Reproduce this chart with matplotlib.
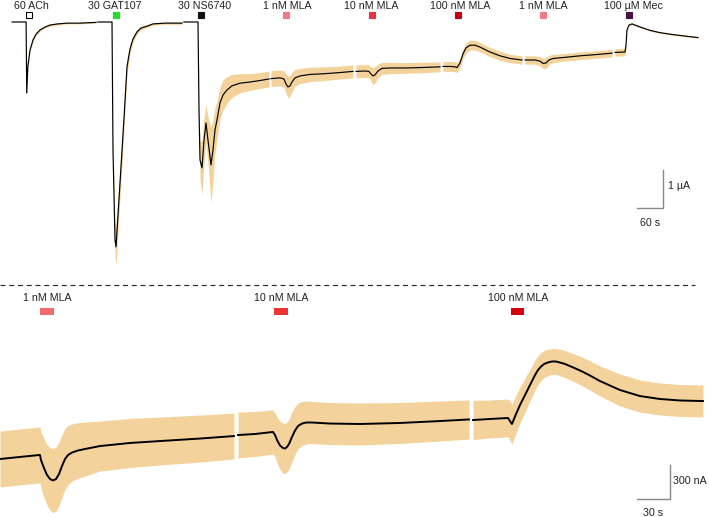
import matplotlib
matplotlib.use("Agg")
import matplotlib.pyplot as plt
from matplotlib.lines import Line2D
from matplotlib.patches import Rectangle

plt.rcParams['font.family'] = ['Liberation Sans', 'DejaVu Sans']

# ---------------- top panel data (time in s, current in µA) ----------------
ach_t = [5, 35, 37, 38.5, 41, 46, 53, 60, 69, 81, 92, 110, 131, 161, 198]
ach_i = [0, 0, 0, -1.87, -1.18, -0.74, -0.47, -0.32, -0.21, -0.13, -0.08, -0.05, -0.03, -0.03, -0.01]
ach_sem = [0, 0, 0.01, 0.05, 0.05, 0.04, 0.04, 0.03, 0.03, 0.03, 0.03, 0.03, 0.02, 0.02, 0.02]

gat_t = [202, 232, 234.6, 236.9, 241.5, 243.8, 253, 262.2, 269.1, 276, 282.9, 292.1, 301.3, 315.1, 328.9, 356.5, 395.6]
gat_i = [0, 0, 0, -3.37, -5.74, -5.92, -4.24, -2.53, -1.18, -0.71, -0.45, -0.26, -0.16, -0.11, -0.05, -0.03, -0.03]
gat_sem = [0, 0, 0.02, 0.2, 0.45, 0.5, 0.4, 0.3, 0.2, 0.12, 0.08, 0.06, 0.05, 0.04, 0.03, 0.03, 0.03]

ns_t = [400, 430, 432.4, 434.7, 437, 441.6, 446.2, 450.8, 455.4, 462.3, 466.9, 471.5, 476.1, 483, 489.9, 499.1, 510.6, 529, 552, 575, 595.7]
ns_i = [0, 0, 0, -2.32, -3.63, -3.84, -3.11, -2.66, -3.11, -3.76, -3.37, -2.84, -2.58, -2.13, -1.92, -1.79, -1.68, -1.61, -1.58, -1.54, -1.50]
ns_sem = [0, 0, 0.02, 0.2, 0.5, 0.7, 0.6, 0.5, 0.6, 1.0, 0.8, 0.6, 0.5, 0.42, 0.4, 0.35, 0.3, 0.25, 0.22, 0.21, 0.21]

mla1_t = [600.3, 621, 630.2, 634.8, 639.4, 644, 648.6, 655.5, 667, 690, 724.5, 759, 788.9]
mla1_i = [-1.49, -1.47, -1.50, -1.63, -1.71, -1.68, -1.58, -1.47, -1.42, -1.38, -1.36, -1.33, -1.30]
mla1_sem = [0.21, 0.21, 0.22, 0.26, 0.28, 0.28, 0.25, 0.22, 0.2, 0.19, 0.18, 0.17, 0.17]

mla10_t = [795.8, 816.5, 825.7, 830.3, 834.9, 839.5, 846.4, 855.6, 874, 908.5, 943, 989]
mla10_i = [-1.30, -1.29, -1.30, -1.37, -1.42, -1.39, -1.29, -1.22, -1.21, -1.21, -1.20, -1.18]
mla10_sem = [0.17, 0.17, 0.17, 0.19, 0.22, 0.22, 0.18, 0.16, 0.15, 0.14, 0.14, 0.13]

mla100_t = [995.9, 1012, 1023.5, 1028.1, 1035, 1041.9, 1048.8, 1058, 1069.5, 1081, 1104, 1127, 1150, 1177.6]
mla100_i = [-1.17, -1.17, -1.18, -1.20, -1.08, -0.84, -0.68, -0.61, -0.61, -0.66, -0.79, -0.89, -0.96, -1.00]
mla100_sem = [0.13, 0.13, 0.13, 0.13, 0.13, 0.13, 0.13, 0.13, 0.13, 0.12, 0.12, 0.12, 0.11, 0.11]

mla1b_t = [1184.5, 1207.5, 1219, 1225.9, 1232.8, 1239.7, 1248.9, 1276.5, 1311, 1345.5, 1384.6]
mla1b_i = [-1.00, -1.00, -1.03, -1.09, -1.08, -1.00, -0.96, -0.93, -0.89, -0.86, -0.82]
mla1b_sem = [0.11, 0.11, 0.12, 0.14, 0.14, 0.12, 0.11, 0.1, 0.1, 0.1, 0.1]

mec_t = [1391.5, 1414.5, 1416.8, 1419.1, 1423.7, 1430.6, 1449, 1472, 1495, 1518, 1552.5, 1582.4]
mec_i = [-0.80, -0.79, -0.61, -0.21, -0.08, -0.05, -0.13, -0.22, -0.28, -0.32, -0.37, -0.41]
mec_sem = [0.1, 0.1, 0.06, 0.03, 0.02, 0.02, 0.02, 0.02, 0.02, 0.02, 0.02, 0.02]

top_labels = ["60 ACh", "30 GAT107", "30 NS6740", "1 nM MLA", "10 nM MLA",
              "100 nM MLA", "1 nM MLA", "100 µM Mec"]
top_label_t = [49.5, 241.5, 448.5, 637, 830, 1035, 1226, 1433]
top_app_t = [43.7, 243.8, 439.3, 634.8, 832.6, 1030.4, 1225.9, 1423.7]
top_app_colors = ["white", "#22dd22", "#111111", "#f27a88", "#e8323f", "#c4000f", "#f27a88", "#4a0f3f"]

# ---------------- bottom panel data (time in s, current in nA, relative) ----------------
b1_t = [0, 18.2, 35.5, 36.4, 37.3, 40, 42.8, 45.5, 48.2, 51, 53.7, 56.4, 59.2, 61.9, 65.5, 71, 77.4, 91, 118.3, 145.6, 182, 212.9]
b1_i = [0, 18, 35, 35, -9, -79, -141, -176, -189, -176, -132, -62, 0, 35, 57, 75, 88, 114, 141, 158, 180, 202]
b1_sem = [246, 246, 246, 246, 250, 258, 266, 275, 282, 282, 280, 275, 268, 260, 252, 244, 238, 220, 216, 211, 207, 202]

b2_t = [216.6, 232.1, 248.4, 250.3, 252.1, 254.8, 257.5, 259.4, 261.2, 263, 265.7, 268.5, 271.2, 274.8, 278.5, 283.9, 300.3, 327.6, 364, 400.4, 426.8]
b2_i = [211, 220, 238, 211, 167, 119, 97, 92, 106, 132, 194, 251, 290, 312, 321, 321, 312, 308, 317, 334, 348]
b2_sem = [202, 198, 194, 194, 202, 211, 220, 220, 220, 220, 220, 211, 202, 194, 189, 185, 185, 185, 180, 176, 172]

b3_t = [430.4, 445.9, 462.3, 464.1, 465.9, 469.6, 473.2, 477.8, 482.3, 486.9, 489.6, 492.4, 495.1, 498.7, 502.3, 505.9, 509.6, 514.2, 520.5, 527.8, 535.1, 546, 564.2, 582.4, 600.6, 618.8, 639.7]
b3_i = [343, 352, 361, 334, 308, 396, 475, 563, 651, 739, 783, 814, 836, 850, 858, 858, 849, 836, 810, 779, 744, 686, 607, 554, 528, 515, 510]
b3_sem = [172, 167, 167, 172, 176, 167, 158, 150, 141, 132, 127, 123, 119, 116, 114, 114, 116, 119, 121, 125, 129, 132, 141, 141, 141, 141, 141]

bot_labels = ["1 nM MLA", "10 nM MLA", "100 nM MLA"]
bot_label_t = [42.8, 255.7, 471.4]
bot_app_start = [36.4, 249.3, 465.0]
bot_app_dur = [12.7, 12.7, 12.0]
bot_app_colors = ["#f26b70", "#ee3337", "#d9000e"]

BAND = "#f3d39b"
TXT = "#222222"
BAR = "#888888"

fig = plt.figure(figsize=(7.09, 5.17), dpi=100)
H = 517.0
ax_top = fig.add_axes([0, 1 - 280 / H, 1, 280 / H])
ax_bot = fig.add_axes([0, 0, 1, (517 - 285) / H])
for ax in (ax_top, ax_bot):
    ax.set_axis_off()

# top axes limits (chosen to match the layout)
ax_top.set_xlim(-23, 1607.7)
ax_top.set_ylim(-6.79, 0.579)

top_segments = [
    (ach_t, ach_i, ach_sem), (gat_t, gat_i, gat_sem), (ns_t, ns_i, ns_sem),
    (mla1_t, mla1_i, mla1_sem), (mla10_t, mla10_i, mla10_sem),
    (mla100_t, mla100_i, mla100_sem), (mla1b_t, mla1b_i, mla1b_sem),
    (mec_t, mec_i, mec_sem),
]
for t, i, s in top_segments:
    lo = [a - b for a, b in zip(i, s)]
    hi = [a + b for a, b in zip(i, s)]
    ax_top.fill_between(t, lo, hi, color=BAND, lw=0, zorder=1)
    ax_top.plot(t, i, color="black", lw=0.85, zorder=2, solid_joinstyle="round")

for lab, lt, at, c in zip(top_labels, top_label_t, top_app_t, top_app_colors):
    ax_top.text(lt, 0.42, lab, ha="center", va="center", fontsize=7.7, color=TXT)
    ax_top.plot([at], [0.184], marker="s", ms=4, mfc=c, mec="black" if c == "white" else c,
                mew=0.8, ls="none")

# top scale bar: 60 s, 1 µA
ax_top.plot([1442, 1502, 1502], [-4.89, -4.89, -3.89], color=BAR, lw=1.0)
ax_top.text(1513, -4.32, "1 µA", ha="left", va="center", fontsize=7.7, color=TXT)
ax_top.text(1472, -5.28, "60 s", ha="center", va="center", fontsize=7.7, color=TXT)

# bottom axes
ax_bot.set_xlim(0, 645.2)
ax_bot.set_ylim(-510.4, 1531.2)
for t, i, s in [(b1_t, b1_i, b1_sem), (b2_t, b2_i, b2_sem), (b3_t, b3_i, b3_sem)]:
    lo = [a - b for a, b in zip(i, s)]
    hi = [a + b for a, b in zip(i, s)]
    ax_bot.fill_between(t, lo, hi, color=BAND, lw=0, zorder=1)
    ax_bot.plot(t, i, color="black", lw=1.4, zorder=2, solid_joinstyle="round")

for lab, lt, st, du, c in zip(bot_labels, bot_label_t, bot_app_start, bot_app_dur, bot_app_colors):
    ax_bot.text(lt, 1417, lab, ha="center", va="center", fontsize=7.7, color=TXT)
    ax_bot.add_patch(Rectangle((st, 1267), du, 62, color=c, lw=0))

# bottom scale bar: 30 s, 300 nA
ax_bot.plot([579.7, 609.7, 609.7], [-352, -352, -52], color=BAR, lw=1.0)
ax_bot.text(612.5, -194, "300 nA", ha="left", va="center", fontsize=7.7, color=TXT)
ax_bot.text(594, -478, "30 s", ha="center", va="center", fontsize=7.7, color=TXT)

# dashed separator
fig.add_artist(Line2D([0, 695 / 709], [1 - 285 / H, 1 - 285 / H], transform=fig.transFigure,
                      ls=(0, (4, 3)), color="#333333", lw=0.9))

fig.savefig("out.png", dpi=100)
